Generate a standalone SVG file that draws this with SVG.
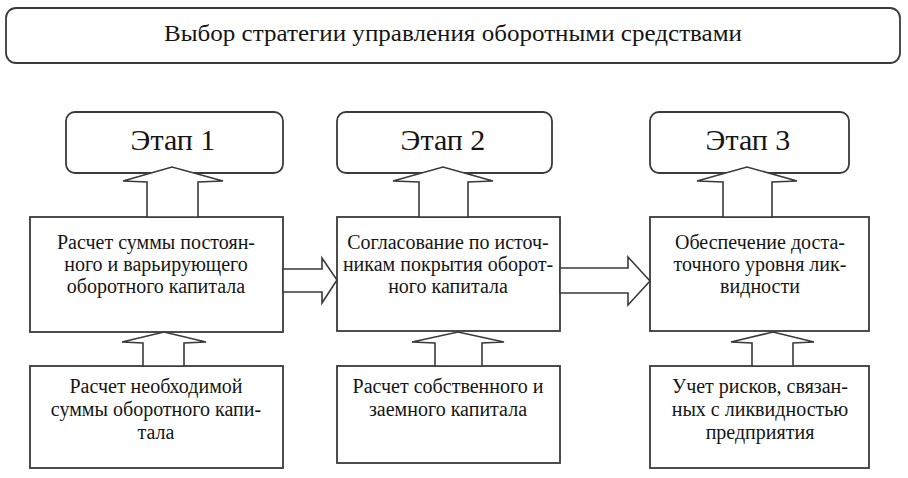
<svg xmlns="http://www.w3.org/2000/svg" width="908" height="478" viewBox="0 0 908 478">
<style>
svg, text, tspan{font-family:"Liberation Serif","Times New Roman","DejaVu Serif",serif}
.box{fill:#fff;stroke:#3a3a3a;stroke-width:1.8}
.arr{fill:#fff;stroke:#3a3a3a;stroke-width:1.6;stroke-linejoin:miter}
text{fill:#151515;text-anchor:middle}
.t{font-size:20px}
.h{font-size:30px}
.title{font-size:24px}
</style>
<rect width="908" height="478" fill="#fff"/>
<g id="top">
<rect class="box" x="6" y="8" width="894" height="55" rx="10" ry="10" stroke="#555"/>
<text class="title" x="453" y="41" textLength="578" lengthAdjust="spacingAndGlyphs">Выбор стратегии управления оборотными средствами</text>
</g>
<g id="stage1">
<rect class="box" x="66" y="112" width="217" height="61" rx="9" ry="9"/>
<text class="h" x="173" y="150">Этап 1</text>
</g>
<g id="stage2">
<rect class="box" x="337" y="112" width="215" height="61" rx="9" ry="9"/>
<text class="h" x="443" y="150">Этап 2</text>
</g>
<g id="stage3">
<rect class="box" x="650" y="112" width="199" height="61" rx="9" ry="9"/>
<text class="h" x="748" y="150">Этап 3</text>
</g>
<g id="mid1">
<rect class="box" x="30" y="217" width="253" height="115"/>
<text class="t" x="156" y="249">Расчет суммы постоян-</text>
<text class="t" x="156" y="271">ного и варьирующего</text>
<text class="t" x="156" y="293">оборотного капитала</text>
</g>
<g id="mid2">
<rect class="box" x="337" y="217" width="223" height="114"/>
<text class="t" x="448" y="249">Согласование по источ-</text>
<text class="t" x="448" y="271">никам покрытия оборот-</text>
<text class="t" x="448" y="293">ного капитала</text>
</g>
<g id="mid3">
<rect class="box" x="650" y="217" width="219" height="114"/>
<text class="t" x="760" y="249">Обеспечение доста-</text>
<text class="t" x="760" y="271">точного уровня лик-</text>
<text class="t" x="760" y="293">видности</text>
</g>
<g id="bot1">
<rect class="box" x="30" y="366" width="253" height="102"/>
<text class="t" x="156" y="393">Расчет необходимой</text>
<text class="t" x="156" y="416">суммы оборотного капи-</text>
<text class="t" x="156" y="439">тала</text>
</g>
<g id="bot2">
<rect class="box" x="337" y="366" width="223" height="97"/>
<text class="t" x="448" y="393">Расчет собственного и</text>
<text class="t" x="448" y="416">заемного капитала</text>
</g>
<g id="bot3">
<rect class="box" x="650" y="366" width="219" height="102"/>
<text class="t" x="760" y="393">Учет рисков, связан-</text>
<text class="t" x="760" y="416">ных с ликвидностью</text>
<text class="t" x="760" y="439">предприятия</text>
</g>
<g id="connectors">
<polygon class="arr" points="147,217 147,182 123,181 172,167 223,181 198,182 198,217"/>
<polygon class="arr" points="419,217 419,182 393,181 443,167 493,181 468,182 468,217"/>
<polygon class="arr" points="723,217 723,182 697,181 747,167 797,181 772,182 772,217"/>
<polygon class="arr" points="143,366 143,343 122,342 164,332 206,342 184,343 184,366"/>
<polygon class="arr" points="435,366 435,343 412,342 458,332 504,342 482,343 482,366"/>
<polygon class="arr" points="752,366 752,343 731,342 773,332 814,342 793,343 793,366"/>
<polygon class="arr" points="283,269 322,269 322,258 337,280 322,303 322,292 283,292"/>
<polygon class="arr" points="560,268 628,268 628,257 650,281 628,305 628,293 560,293"/>
</g>
</svg>
